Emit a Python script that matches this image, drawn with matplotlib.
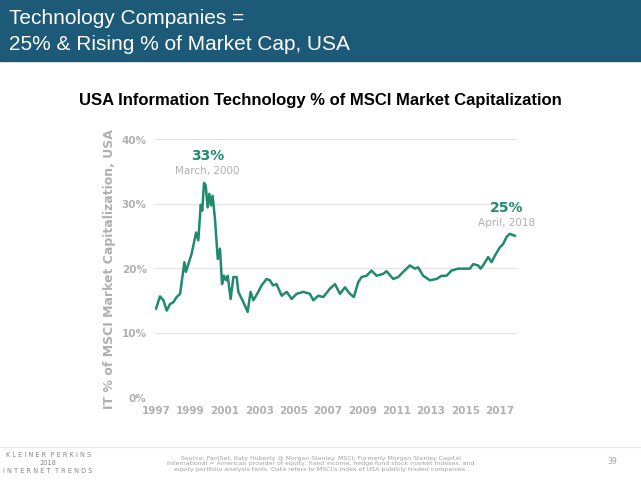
import matplotlib
matplotlib.use("Agg")
import matplotlib.pyplot as plt
from matplotlib.lines import Line2D
from matplotlib.patches import Rectangle

years = [1997.00,1997.23,1997.43,1997.62,1997.81,1998.01,1998.20,1998.40,1998.65,1998.74,1998.88,
         1999.07,1999.33,1999.46,1999.60,1999.69,1999.79,1999.89,2000.00,2000.10,2000.20,2000.29,
         2000.43,2000.59,2000.72,2000.84,2000.95,2001.07,2001.17,2001.34,2001.50,2001.69,2001.79,
         2002.08,2002.33,2002.50,2002.66,2002.95,2003.14,2003.43,2003.62,2003.81,2004.01,2004.31,
         2004.60,2004.89,2005.18,2005.57,2005.95,2006.15,2006.44,2006.73,2007.12,2007.41,2007.70,
         2007.99,2008.28,2008.51,2008.76,2008.96,2009.25,2009.54,2009.83,2010.22,2010.41,2010.80,
         2011.09,2011.38,2011.77,2012.06,2012.25,2012.54,2012.93,2013.32,2013.61,2013.90,2014.19,
         2014.58,2014.97,2015.26,2015.45,2015.74,2015.88,2016.03,2016.32,2016.52,2016.71,2017.00,
         2017.19,2017.39,2017.58,2017.87]
values = [13.7,15.6,15.0,13.4,14.4,14.7,15.5,16.0,20.9,19.4,20.6,
          22.2,25.5,24.3,29.8,28.9,33.2,32.8,29.4,31.5,29.7,31.2,
          27.6,21.4,23.0,17.5,18.8,18.1,18.8,15.2,18.6,18.6,16.3,
          14.7,13.2,16.3,15.0,16.3,17.3,18.3,18.1,17.3,17.5,15.7,
          16.3,15.2,16.0,16.3,16.0,15.0,15.7,15.5,16.8,17.5,16.0,
          17.0,16.0,15.5,17.8,18.6,18.8,19.6,18.8,19.1,19.5,18.3,
          18.6,19.4,20.4,19.9,20.1,18.8,18.1,18.3,18.8,18.8,19.6,
          19.9,19.9,19.9,20.6,20.4,19.9,20.4,21.7,20.9,21.9,23.2,
          23.7,24.8,25.3,25.0]
xticks = list(range(1997, 2018, 2))
yticks = [0, 10, 20, 30, 40]

green = "#1f8a6e"
gray = "#b0b0b0"
fig = plt.figure(figsize=(6.41, 4.81), dpi=100)
fig.patches.append(Rectangle((0, 1 - 62/481), 1, 62/481, transform=fig.transFigure,
                             color="#1d5a78", zorder=0))
fig.text(0.014, 1 - 18/481, "Technology Companies =", color="white", fontsize=15,
         va="center", fontfamily="Liberation Sans")
fig.text(0.014, 1 - 44/481, "25% & Rising % of Market Cap, USA", color="white", fontsize=15,
         va="center", fontfamily="Liberation Sans")
fig.text(0.5, 1 - 101/481, "USA Information Technology % of MSCI Market Capitalization",
         ha="center", va="center", fontsize=12, fontweight="bold", fontfamily="Liberation Sans")

ax = fig.add_axes([155/641, 83/481, 362/641, 258/481])
ax.plot(years, values, color=green, lw=1.8)
ax.set_xlim(1996.94, 2018.0)
ax.set_ylim(0, 40)
ax.set_xticks(xticks)
ax.set_xticklabels([str(t) for t in xticks])
ax.set_yticks(yticks)
ax.set_yticklabels([f"{t}%" for t in yticks])
ax.grid(axis="y", color="#e2e2e2", lw=0.8)
for s in ax.spines.values():
    s.set_visible(False)
ax.tick_params(length=0, colors=gray, labelsize=7.5, pad=6)
for lab in ax.get_xticklabels() + ax.get_yticklabels():
    lab.set_fontweight("bold")
ax.set_ylabel("IT % of MSCI Market Capitalization, USA", color=gray, fontsize=9,
              fontweight="bold", labelpad=4)

ax.annotate("33%", (2000.0, 37.5), ha="center", va="center", color=green,
            fontsize=10, fontweight="bold")
ax.annotate("March, 2000", (2000.0, 35.2), ha="center", va="center", color=gray, fontsize=7.5)
ax.annotate("25%", (2017.4, 29.5), ha="center", va="center", color=green,
            fontsize=10, fontweight="bold")
ax.annotate("April, 2018", (2017.4, 27.2), ha="center", va="center", color=gray, fontsize=7.5)

fig.add_artist(Line2D([0, 1], [1 - 448/481, 1 - 448/481], color="#e8e8e8", lw=0.8))
fig.text(0.075, 1 - 463/481, "K L E I N E R  P E R K I N S\n2018\nI N T E R N E T  T R E N D S",
         ha="center", va="center", color="#888888", fontsize=4.8, linespacing=1.4)
fig.text(0.5, 1 - 464/481,
         "Source: FactSet, Katy Huberty @ Morgan Stanley. MSCI: Formerly Morgan Stanley Capital\n"
         "International = American provider of equity, fixed income, hedge fund stock market indexes, and\n"
         "equity portfolio analysis tools. Data refers to MSCI's index of USA publicly traded companies.",
         ha="center", va="center", color="#a0a0a0", fontsize=4.5, linespacing=1.2)
fig.text(0.955, 1 - 462/481, "39", ha="center", va="center", color="#a0a0a0", fontsize=5.5)
fig.savefig("out.png", dpi=100)
